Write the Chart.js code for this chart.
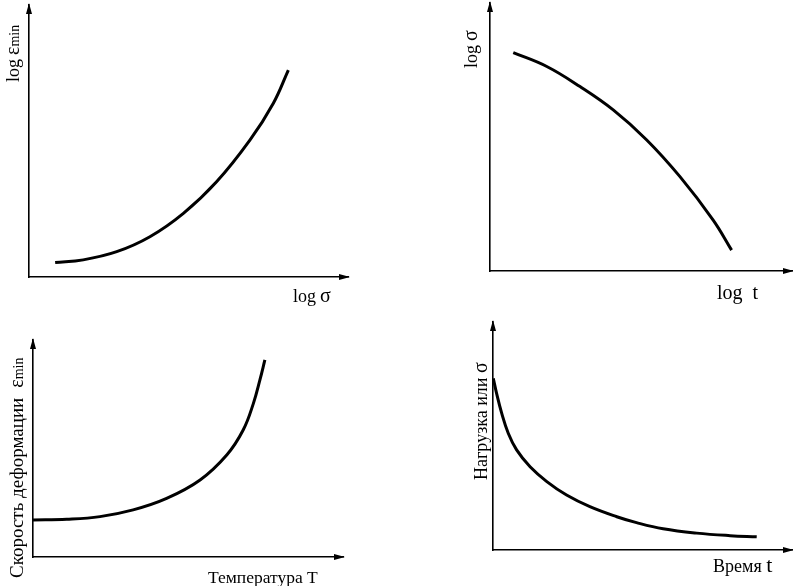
<!DOCTYPE html>
<html><head><meta charset="utf-8">
<script src="https://cdn.jsdelivr.net/npm/chart.js@4.4.1/dist/chart.umd.min.js"></script>
<style>
html,body{margin:0;padding:0;background:#fff;width:793px;height:586px;overflow:hidden}
.p{position:absolute}
</style></head><body>
<div class="p" style="left:0;top:0;width:360px;height:310px"><canvas id="k1"></canvas></div>
<div class="p" style="left:430px;top:0;width:363px;height:310px"><canvas id="k2"></canvas></div>
<div class="p" style="left:0;top:320px;width:360px;height:266px"><canvas id="k3"></canvas></div>
<div class="p" style="left:430px;top:320px;width:363px;height:266px"><canvas id="k4"></canvas></div>
<script>
// Panel 1: log(min creep rate) vs log(stress), relative units 0..100
const logStress = [8.2, 17.0, 27.5, 37.9, 48.4, 58.8, 69.3, 76.6, 81.3];
const logMinRate = [5.3, 6.3, 9.3, 14.8, 23.4, 35.0, 50.4, 63.9, 76.1];
// Panel 2: log(stress) vs log(time to rupture)
const logTime = [7.7, 18.8, 29.8, 40.8, 51.9, 62.9, 73.9, 80.0];
const logStressRupture = [81.5, 76.3, 68.8, 60.1, 48.9, 35.2, 19.0, 7.8];
// Panel 3: strain rate vs temperature
const temperature = [0, 10.9, 21.6, 32.3, 43.1, 53.9, 62.5, 67.8, 71.1, 73.2, 74.8];
const strainRate = [17.1, 17.4, 18.6, 21.7, 27.0, 35.5, 47.0, 58.5, 70.8, 81.6, 90.8];
// Panel 4: load (stress) relaxation vs time
const time = [0.1, 1.2, 2.9, 5.1, 7.9, 12.4, 18.0, 24.6, 32.4, 41.4, 48.0, 56.9, 68.1, 79.3, 88.2];
const load = [75.3, 68.7, 60.0, 51.2, 43.9, 36.5, 30.0, 24.1, 19.0, 14.6, 12.0, 9.3, 7.4, 6.3, 5.8];

const SERIF = '"Liberation Serif", "DejaVu Serif", serif';

const arrowsAndLabels = {
  id: 'arrowsAndLabels',
  afterDraw(chart, args, opts) {
    const {ctx, chartArea: a} = chart;
    ctx.save();
    ctx.fillStyle = '#000';
    ctx.beginPath();
    ctx.moveTo(a.left, a.top - 2);
    ctx.lineTo(a.left - 3, a.top + 9);
    ctx.lineTo(a.left + 3, a.top + 9);
    ctx.closePath(); ctx.fill();
    ctx.beginPath();
    ctx.moveTo(a.right + 2, a.bottom);
    ctx.lineTo(a.right - 9, a.bottom - 3);
    ctx.lineTo(a.right - 9, a.bottom + 3);
    ctx.closePath(); ctx.fill();
    ctx.textBaseline = 'alphabetic';
    ctx.textAlign = 'left';
    for (const l of (opts.labels || [])) {
      ctx.save();
      ctx.translate(l.x, l.y);
      if (l.rot) ctx.rotate(-Math.PI / 2);
      let x = 0;
      for (const part of l.parts) {
        ctx.font = part.size + 'px ' + SERIF;
        ctx.fillText(part.t, x, part.dy || 0);
        x += ctx.measureText(part.t).width + (part.gap || 0);
      }
      ctx.restore();
    }
    ctx.restore();
  }
};

function axis() {
  return {
    type: 'linear', min: 0, max: 100,
    grid: {display: false, drawTicks: false, tickLength: 0},
    ticks: {display: false},
    border: {display: true, color: '#000', width: 1.6}
  };
}

function makeChart(id, xs, ys, padding, labels) {
  new Chart(document.getElementById(id), {
    type: 'line',
    data: {
      datasets: [{
        data: xs.map((x, i) => ({x: x, y: ys[i]})),
        borderColor: '#000',
        borderWidth: 3,
        pointRadius: 0,
        fill: false,
        tension: 0.4
      }]
    },
    options: {
      responsive: true,
      maintainAspectRatio: false,
      animation: false,
      layout: {padding: padding},
      plugins: {
        legend: {display: false},
        tooltip: {enabled: false},
        arrowsAndLabels: {labels: labels}
      },
      scales: {x: axis(), y: axis()}
    },
    plugins: [arrowsAndLabels]
  });
}

makeChart('k1', logStress, logMinRate, {left: 29, top: 5, right: 12, bottom: 33}, [
  {x: 19, y: 82, rot: true, parts: [{t: 'log', size: 18, gap: 4}, {t: 'ε', size: 20, gap: 0}, {t: 'min', size: 14}]},
  {x: 293, y: 302, parts: [{t: 'log', size: 18, gap: 4}, {t: 'σ', size: 20}]}
]);
makeChart('k2', logTime, logStressRupture, {left: 60, top: 3, right: 1, bottom: 39}, [
  {x: 47, y: 68, rot: true, parts: [{t: 'log', size: 18, gap: 4}, {t: 'σ', size: 20}]},
  {x: 287, y: 299, parts: [{t: 'log', size: 20, gap: 10}, {t: 't', size: 20}]}
]);
makeChart('k3', temperature, strainRate, {left: 33, top: 20, right: 17, bottom: 29}, [
  {x: 23, y: 258, rot: true, parts: [{t: 'Скорость деформации', size: 19, gap: 10}, {t: 'ε', size: 20, gap: 0}, {t: 'min', size: 14}]},
  {x: 208, y: 263, parts: [{t: 'Температура T', size: 17.5}]}
]);
makeChart('k4', time, load, {left: 63, top: 2, right: 1, bottom: 36}, [
  {x: 57, y: 160, rot: true, parts: [{t: 'Нагрузка или ', size: 18}, {t: 'σ', size: 20}]},
  {x: 283, y: 252, parts: [{t: 'Время ', size: 18}, {t: 't', size: 22}]}
]);
</script>
</body></html>
